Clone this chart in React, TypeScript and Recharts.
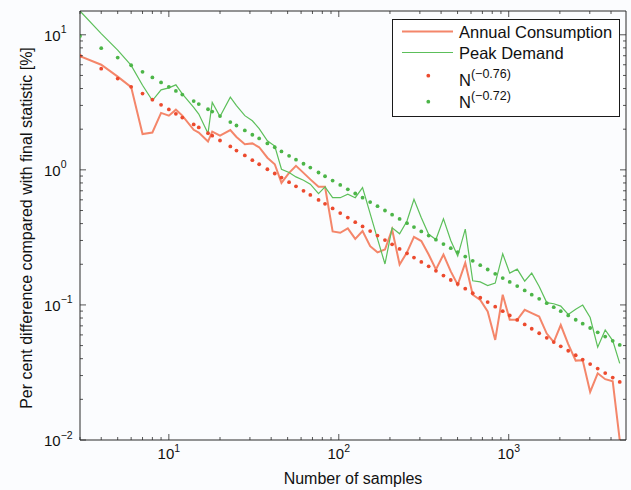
import { ComposedChart, Line, XAxis, YAxis, Legend } from "recharts";

// sample sizes N (log spaced) and the relative errors
const samples = [
  3, 4, 5, 6, 7, 8, 9, 10, 11, 12, 14, 15, 17, 18, 20, 23, 25, 28, 31, 34, 38, 42, 46, 51, 56,
  62, 68, 76, 83, 92, 102, 113, 125, 138, 153, 169, 187, 206, 228, 252, 277, 306, 338, 373, 413,
  456, 501, 555, 614, 680, 752, 833, 922, 1014, 1122, 1242, 1366, 1511, 1674, 1841, 2024, 2240,
  2479, 2725, 3015, 3339, 3697, 4093, 4501,
];
const annualConsumption = [
  6.95, 6.0, 4.9, 4.1, 1.84, 1.89, 2.64, 2.52, 2.79, 2.52, 1.98, 1.89, 1.62, 1.92, 1.79,
  1.97, 1.75, 1.55, 1.57, 1.47, 1.23, 1.1, 0.8, 0.95, 1.07, 0.95, 0.85, 0.75, 0.75, 0.35,
  0.342, 0.369, 0.308, 0.352, 0.272, 0.245, 0.257, 0.362, 0.199, 0.245, 0.319, 0.297, 0.236,
  0.183, 0.236, 0.177, 0.141, 0.205, 0.119, 0.109, 0.0895, 0.0551, 0.119, 0.0776, 0.0776,
  0.092, 0.0869, 0.082, 0.0614, 0.0531, 0.071, 0.0513, 0.0387, 0.0389, 0.0227, 0.0312,
  0.0282, 0.0272, 0.01,
];
const peakDemand = [
  15.0, 10.2, 7.7, 5.94, 4.23, 3.26, 3.91, 4.05, 4.26, 3.65, 2.9, 2.59, 1.86, 3.16, 2.48,
  3.45, 2.99, 2.52, 2.31, 2.02, 1.64, 1.5, 1.01, 0.955, 0.887, 0.838, 0.783, 0.667, 0.748,
  0.622, 0.622, 0.66, 0.622, 0.739, 0.474, 0.308, 0.201, 0.372, 0.336, 0.418, 0.605, 0.442,
  0.333, 0.305, 0.434, 0.3, 0.23, 0.364, 0.151, 0.148, 0.139, 0.145, 0.239, 0.172, 0.184,
  0.15, 0.172, 0.137, 0.104, 0.102, 0.098, 0.085, 0.093, 0.0997, 0.0807, 0.0487, 0.0652,
  0.0545, 0.0369,
];
// fitted power laws, values read at each N
const fitConsumption = [
  6.99, 5.61, 4.74, 4.12, 3.67, 3.31, 3.03, 2.8, 2.6, 2.44, 2.17, 2.06, 1.87, 1.79, 1.65,
  1.49, 1.39, 1.28, 1.18, 1.1, 1.01, 0.94, 0.877, 0.811, 0.755, 0.699, 0.652, 0.599, 0.56,
  0.518, 0.479, 0.443, 0.41, 0.381, 0.352, 0.326, 0.302, 0.281, 0.26, 0.241, 0.224, 0.208,
  0.193, 0.179, 0.165, 0.153, 0.143, 0.132, 0.122, 0.113, 0.105, 0.0971, 0.0899, 0.0836,
  0.0774, 0.0717, 0.0666, 0.0617, 0.0571, 0.0531, 0.0494, 0.0458, 0.0424, 0.0394, 0.0365,
  0.0338, 0.0313, 0.029, 0.0269,
];
const fitPeak = [
  9.79, 7.96, 6.78, 5.95, 5.32, 4.83, 4.44, 4.12, 3.84, 3.61, 3.23, 3.07, 2.81, 2.7, 2.5,
  2.26, 2.13, 1.96, 1.82, 1.71, 1.57, 1.47, 1.37, 1.27, 1.19, 1.11, 1.04, 0.956, 0.897,
  0.833, 0.773, 0.718, 0.668, 0.622, 0.577, 0.538, 0.5, 0.466, 0.433, 0.403, 0.377, 0.35,
  0.326, 0.304, 0.282, 0.263, 0.246, 0.228, 0.212, 0.197, 0.183, 0.17, 0.158, 0.148, 0.138,
  0.128, 0.119, 0.111, 0.103, 0.0963, 0.0899, 0.0836, 0.0777, 0.0726, 0.0675, 0.0627,
  0.0583, 0.0542, 0.0506,
];

const xTicks = [
  3, 4, 5, 6, 7, 8, 9, 10, 20, 30, 40, 50, 60, 70, 80, 90, 100, 200, 300, 400, 500, 600, 700,
  800, 900, 1000, 2000, 3000, 4000,
];
const xMajor = [10, 100, 1000];
const xExponents = ["1", "2", "3"];
const yTicks = [
  0.01, 0.02, 0.03, 0.04, 0.05, 0.06, 0.07, 0.08, 0.09, 0.1, 0.2, 0.3, 0.4, 0.5, 0.6, 0.7,
  0.8, 0.9, 1, 2, 3, 4, 5, 6, 7, 8, 9, 10,
];
const yMajor = [0.01, 0.1, 1, 10];
const yExponents = ["\u22122", "\u22121", "0", "1"];

const seriesNames = ["Annual Consumption", "Peak Demand"];
const fitExponents = ["(\u22120.76)", "(\u22120.72)"];
const xTitle = "Number of samples";
const yTitle = "Per cent difference compared with final statistic [%]";

const data = samples.map((n, i) => ({
  n,
  annual: annualConsumption[i],
  peak: peakDemand[i],
  fitA: fitConsumption[i],
  fitP: fitPeak[i],
}));

const INK = "#2a2a2a";
const TEXT = "#111";
const FONT = "'Liberation Sans', Arial, Helvetica, sans-serif";
const RED_LINE = "#f4866a";
const RED_DOT = "#ec4a2e";
const GREEN_LINE = "#5cbf5a";
const GREEN_DOT = "#4cb548";

function BottomTick(props: any) {
  const { x, y, payload } = props;
  const k = xMajor.indexOf(payload.value);
  const len = k >= 0 ? 6 : 3;
  return (
    <g>
      <line x1={x} x2={x} y1={y} y2={y - len} stroke={INK} strokeWidth={0.8} />
      {k >= 0 && (
        <text x={x} y={y + 19} textAnchor="middle" fontSize={15} fill={TEXT} fontFamily={FONT}>
          10<tspan fontSize={10.5} dy={-7}>{xExponents[k]}</tspan>
        </text>
      )}
    </g>
  );
}

function TopTick(props: any) {
  const { x, y, payload } = props;
  const len = xMajor.includes(payload.value) ? 6 : 3;
  return <line x1={x} x2={x} y1={y} y2={y + len} stroke={INK} strokeWidth={0.8} />;
}

function LeftTick(props: any) {
  const { x, y, payload } = props;
  const k = yMajor.indexOf(payload.value);
  const len = k >= 0 ? 6 : 3;
  return (
    <g>
      <line x1={x} x2={x + len} y1={y} y2={y} stroke={INK} strokeWidth={0.8} />
      {k >= 0 && (
        <text x={x - 36} y={y + 6} textAnchor="start" fontSize={15} fill={TEXT} fontFamily={FONT}>
          10<tspan fontSize={10.5} dy={-7.5}>{yExponents[k]}</tspan>
        </text>
      )}
    </g>
  );
}

function RightTick(props: any) {
  const { x, y, payload } = props;
  const len = yMajor.includes(payload.value) ? 6 : 3;
  return <line x1={x} x2={x - len} y1={y} y2={y} stroke={INK} strokeWidth={0.8} />;
}

function LegendBox() {
  const txt = { fontSize: 16.5, fill: TEXT, fontFamily: FONT } as const;
  return (
    <svg width={230} height={100} style={{ display: "block" }}>
      <rect x={0.5} y={0.5} width={227} height={97} fill="#fff" stroke="#1a1a1a" strokeWidth={1} />
      <line x1={10} x2={61} y1={12.5} y2={12.5} stroke={RED_LINE} strokeWidth={2} />
      <text x={67} y={18.5} {...txt}>{seriesNames[0]}</text>
      <line x1={10} x2={61} y1={33.5} y2={33.5} stroke={GREEN_LINE} strokeWidth={1.2} />
      <text x={67} y={39.5} {...txt}>{seriesNames[1]}</text>
      <circle cx={36.3} cy={56.7} r={1.9} fill={RED_DOT} />
      <text x={67} y={67} {...txt}>
        N<tspan fontSize={12.5} dy={-8}>{fitExponents[0]}</tspan>
      </text>
      <circle cx={36.3} cy={82.7} r={1.9} fill={GREEN_DOT} />
      <text x={67} y={89} {...txt}>
        N<tspan fontSize={12.5} dy={-8}>{fitExponents[1]}</tspan>
      </text>
    </svg>
  );
}

export default function App() {
  return (
    <div style={{ position: "absolute", left: 0, top: 0, width: 631, height: 490, background: "#fbfcfe" }}>
      <ComposedChart width={631} height={490} data={data} margin={{ top: 0, right: 0, bottom: 0, left: 0 }}>
        <XAxis
          dataKey="n" type="number" scale="log" domain={[3, 4900]} allowDataOverflow
          ticks={xTicks} interval={0} height={50} tickSize={0} tickMargin={0} tickLine={false}
          tick={BottomTick} axisLine={{ stroke: INK, strokeWidth: 1 }}
          label={() => (
            <text x={353} y={484} textAnchor="middle" fontSize={16} fill={TEXT} fontFamily={FONT}>
              {xTitle}
            </text>
          )}
        />
        <XAxis
          xAxisId="top" orientation="top" dataKey="n" type="number" scale="log" domain={[3, 4900]}
          allowDataOverflow ticks={xTicks} interval={0} height={11} tickSize={0} tickMargin={0}
          tickLine={false} tick={TopTick} axisLine={{ stroke: INK, strokeWidth: 1 }}
        />
        <YAxis
          type="number" scale="log" domain={[0.01, 15]} allowDataOverflow ticks={yTicks} interval={0}
          width={80} tickSize={0} tickMargin={0} tickLine={false} tick={LeftTick}
          axisLine={{ stroke: INK, strokeWidth: 1 }}
          label={() => (
            <text
              x={32} y={228} textAnchor="middle" fontSize={16} fill={TEXT} fontFamily={FONT}
              transform="rotate(-90, 32, 228)"
            >
              {yTitle}
            </text>
          )}
        />
        <YAxis
          yAxisId="right" orientation="right" type="number" scale="log" domain={[0.01, 15]}
          allowDataOverflow ticks={yTicks} interval={0} width={5} tickSize={0} tickMargin={0}
          tickLine={false} tick={RightTick} axisLine={{ stroke: INK, strokeWidth: 1 }}
        />
        <Line dataKey="annual" stroke={RED_LINE} strokeWidth={2} dot={false} isAnimationActive={false} />
        <Line dataKey="peak" stroke={GREEN_LINE} strokeWidth={1.2} dot={false} isAnimationActive={false} />
        <Line
          dataKey="fitA" stroke="none" isAnimationActive={false}
          dot={{ r: 1.9, fill: RED_DOT, stroke: "none" }}
        />
        <Line
          xAxisId="top" yAxisId="right" dataKey="fitP" stroke="none" isAnimationActive={false}
          dot={{ r: 1.9, fill: GREEN_DOT, stroke: "none" }}
        />
        <Legend
          layout="vertical" align="center" verticalAlign="middle"
          wrapperStyle={{ left: 392, top: 19, width: 230, height: 100 }}
          content={() => <LegendBox />}
        />
      </ComposedChart>
    </div>
  );
}
